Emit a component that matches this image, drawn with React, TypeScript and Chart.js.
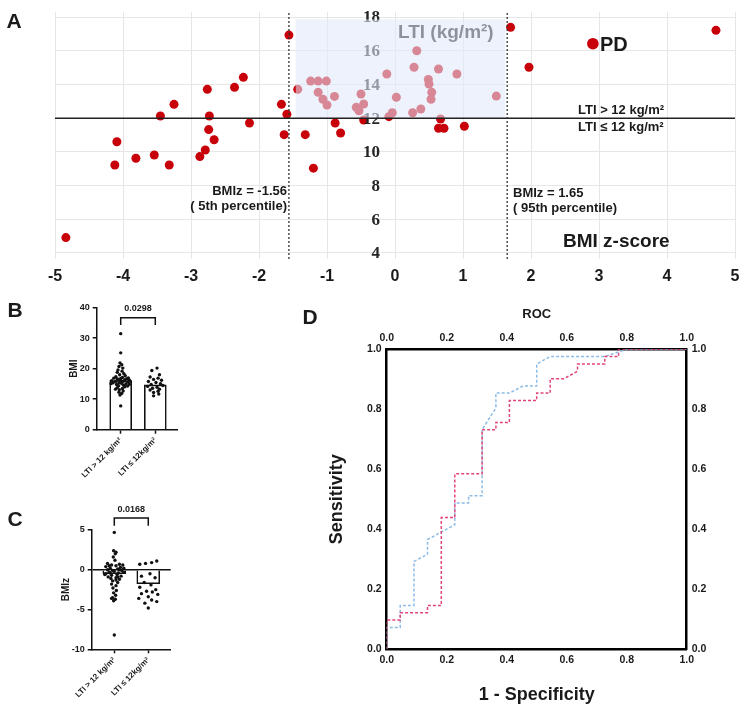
import React, { useEffect, useRef } from "react";
import Chart from "chart.js/auto";

const SANS = "'Liberation Sans', Arial, sans-serif";
const SERIF = "'Liberation Serif', 'Times New Roman', serif";
const RED = "#c8000a";
const INK = "#1a1a1a";

// ---- Panel A: BMI z-score vs LTI ----
const bmizA = [
  -4.84, -4.12, -4.09, -3.81, -3.54, -3.45, -3.32, -3.25, -2.87, -2.79,
  -2.76, -2.73, -2.74, -2.66, -2.36, -2.23, -2.14, -1.67, -1.63, -1.59,
  -1.56, -1.43, -1.32, -1.24, -1.13, -1.01, -1.13, -1.06, -1.0, -0.89,
  -1.2, -0.88, -0.8, -0.57, -0.53, -0.5, -0.46, -0.46, -0.12, -0.09,
  -0.04, 0.02, 0.26, 0.28, 0.32, 0.38, 0.49, 0.5, 0.54, 0.53,
  0.64, 0.67, 0.64, 0.72, 0.91, 1.02, 1.49, 1.7, 1.97, 4.72,
];
const ltiA = [
  4.91, 9.22, 10.6, 9.62, 9.81, 12.13, 9.22, 12.82, 9.72, 10.11,
  13.71, 12.13, 11.32, 10.72, 13.83, 14.42, 11.71, 12.82, 11.02, 12.23,
  16.93, 13.71, 11.02, 14.2, 14.2, 14.2, 13.53, 13.12, 12.78, 13.29,
  9.03, 11.71, 11.12, 12.64, 12.44, 13.43, 12.84, 11.89, 14.62, 12.09,
  12.32, 13.24, 12.32, 15.02, 16.0, 12.54, 14.3, 14.03, 13.53, 13.12,
  14.92, 11.95, 11.4, 11.4, 14.62, 11.52, 13.31, 17.39, 15.02, 17.21,
];
const pdBmiz = [2.91];
const pdLti = [16.42];
const xTicksA = [-5, -4, -3, -2, -1, 0, 1, 2, 3, 4, 5];
const yTicksA = [4, 6, 8, 10, 12, 14, 16, 18];
const yMinA = 3.64;
const yMaxA = 18.3;
const cutoffLow = -1.56;
const cutoffHigh = 1.65;
const ltiCut = 12;
const boxBmiz = [-1.46, 1.62];
const boxLti = [12, 17.86];

// ---- Panels B and C: groups ----
const groupX = [1, 2];
const groupLabels = ["LTI > 12 kg/m²", "LTI ≤ 12kg/m²"];

const bmiHigh = [
  31.5, 25.2, 21.9, 21.3, 20.7, 20.2, 19.6, 19.2, 18.8, 18.4,
  18.0, 17.7, 17.4, 17.1, 16.9, 16.7, 16.5, 16.3, 16.1, 16.0,
  15.8, 15.6, 15.4, 15.2, 15.0, 14.8, 14.6, 14.4, 14.1, 13.8,
  13.5, 13.1, 12.7, 12.3, 11.9, 11.4, 7.8, 16.2, 15.9, 16.6,
  15.5, 17.0, 16.4, 15.1, 14.9, 15.7, 16.8, 14.3, 13.3,
];
const bmiHighJit = [
  0, 0, -0.02, 0.03, -0.05, 0.06, -0.08, 0.04, -0.1, 0.09,
  -0.03, 0.13, -0.14, 0.05, -0.2, 0.18, -0.08, 0.25, -0.26, 0.1,
  -0.15, 0.2, -0.22, 0.02, 0.15, -0.12, 0.08, -0.06, 0.12, -0.1,
  0.05, -0.04, 0.07, -0.05, 0.03, -0.02, 0, 0, 0.27, -0.1,
  -0.05, 0.22, 0.12, -0.28, 0.25, 0.05, 0, 0.2, -0.15,
];
const bmiLow = [20.2, 19.4, 18.0, 17.3, 16.9, 16.5, 16.2, 15.8, 15.5, 15.1, 14.8, 14.5, 14.2, 13.9, 13.6, 13.3, 13.0, 12.6, 12.2, 11.7, 11.1];
const bmiLowJit = [0.05, -0.1, 0.12, -0.15, 0.08, -0.05, 0.18, -0.2, 0.02, 0.15, -0.12, 0.22, -0.22, 0.05, -0.08, 0.12, -0.15, 0.08, -0.05, 0.1, -0.05];
const bmiMeans = [16.1, 14.7];
const bmiTicks = [0, 10, 20, 30, 40];

const bmizHigh = [
  4.7, 2.4, 2.0, 1.6, 1.2, 0.8, 0.7, 0.6, 0.6, 0.5,
  0.4, 0.3, 0.2, 0.1, 0.0, -0.1, -0.2, -0.3, -0.4, -0.5,
  -0.6, -0.7, -0.8, -0.9, -1.0, -1.1, -1.2, -1.4, -1.6, -1.8,
  -2.0, -2.3, -2.6, -2.9, -3.2, -3.5, -3.7, -3.9, -8.2, 0.2,
  -0.3, -0.6, 0.5, -0.1, -0.9, 0.0, -0.4, 2.2, -3.6, -1.3,
];
const bmizHighJit = [
  0, -0.02, 0.03, -0.03, 0.02, -0.2, 0.15, -0.08, 0.25, 0.05,
  -0.25, 0.18, -0.12, 0.1, -0.2, 0.22, 0, -0.15, 0.12, -0.25,
  0.08, -0.08, 0.2, -0.18, 0.05, -0.1, 0.15, -0.05, 0.1, -0.08,
  0.05, -0.04, 0.06, -0.02, 0.04, -0.05, 0.03, -0.02, 0, 0.28,
  0.28, -0.28, -0.15, -0.05, 0.1, 0.15, -0.12, 0.05, -0.08, 0.05,
];
const bmizLow = [1.1, 0.9, 0.8, 0.7, -0.5, -0.8, -1.0, -1.6, -1.9, -2.2, -2.5, -2.7, -2.8, -3.0, -3.1, -3.4, -3.6, -3.8, -4.0, -4.2, -4.8];
const bmizLowJit = [0.25, 0.1, -0.08, -0.25, 0.05, -0.2, 0.2, -0.12, 0.08, -0.25, 0.22, -0.05, 0.12, -0.2, 0.28, 0.0, -0.28, 0.1, 0.25, -0.1, 0];
const bmizMeans = [-0.5, -1.76];
const bmizTicks = [-10, -5, 0, 5];

// ---- Panel D: ROC curves ----
const rocTicks = [0, 0.2, 0.4, 0.6, 0.8, 1.0];
const redFpr = [0, 0, 0.045, 0.045, 0.136, 0.136, 0.182, 0.182, 0.227, 0.227, 0.318, 0.318, 0.364, 0.364, 0.409, 0.409, 0.5, 0.5, 0.545, 0.545, 0.591, 0.636, 0.636, 0.727, 0.727, 0.773, 0.773, 1];
const redTpr = [0, 0.098, 0.098, 0.122, 0.122, 0.146, 0.146, 0.439, 0.439, 0.585, 0.585, 0.732, 0.732, 0.756, 0.756, 0.829, 0.829, 0.854, 0.854, 0.902, 0.902, 0.927, 0.951, 0.951, 0.976, 0.976, 1, 1];
const blueFpr = [0, 0, 0.045, 0.045, 0.091, 0.091, 0.136, 0.136, 0.227, 0.227, 0.273, 0.273, 0.318, 0.318, 0.364, 0.364, 0.409, 0.455, 0.5, 0.5, 0.545, 0.727, 0.8, 1];
const blueTpr = [0, 0.073, 0.073, 0.146, 0.146, 0.293, 0.317, 0.366, 0.415, 0.488, 0.488, 0.512, 0.512, 0.732, 0.805, 0.854, 0.854, 0.878, 0.878, 0.951, 0.976, 0.976, 1, 1];

const zip = (xs: number[], ys: number[]) => xs.map((x, i) => ({ x, y: ys[i] }));
const jitter = (base: number, vals: number[], jit: number[]) => vals.map((v, i) => ({ x: base + jit[i], y: v }));
const fixTicks = (arr: number[]) => (s: any) => { s.ticks = arr.map((v) => ({ value: v })); };

Chart.defaults.font.family = SANS;

const text = (ctx: any, s: string, x: number, y: number, font: string, align = "left", color = INK) => {
  ctx.font = font;
  ctx.textAlign = align;
  ctx.textBaseline = "middle";
  ctx.fillStyle = color;
  ctx.fillText(s, x, y);
};

const panelAPlugin = {
  id: "panelA",
  afterDatasetDraw(chart: any, args: any) {
    if (args.index !== 0) return;
    const { ctx, scales: { x, y } } = chart;
    ctx.save();
    const lx = x.getPixelForValue(0) - 15;
    yTicksA.forEach((v) => text(ctx, String(v), lx, y.getPixelForValue(v) + 1, `bold 17px ${SERIF}`, "right", "#262626"));
    text(ctx, "LTI (kg/m²)", 398, 33, `bold 19px ${SANS}`);
    // translucent box laid over dots and labels
    const bx0 = x.getPixelForValue(boxBmiz[0]);
    const bx1 = x.getPixelForValue(boxBmiz[1]);
    const by0 = y.getPixelForValue(boxLti[1]);
    const by1 = y.getPixelForValue(boxLti[0]);
    ctx.fillStyle = "rgba(226,233,250,0.58)";
    ctx.fillRect(bx0, by0, bx1 - bx0, by1 - by0);
    ctx.restore();
  },
  afterDraw(chart: any) {
    const { ctx } = chart;
    ctx.save();
    text(ctx, "A", 14, 22, `bold 21px ${SANS}`, "center");
    text(ctx, "PD", 600, 45, `bold 20px ${SANS}`);
    text(ctx, "LTI > 12 kg/m²", 578, 110, `bold 13px ${SANS}`);
    text(ctx, "LTI ≤ 12 kg/m²", 578, 127, `bold 13px ${SANS}`);
    text(ctx, "BMIz = -1.56", 287, 191, `bold 13px ${SANS}`, "right");
    text(ctx, "( 5th percentile)", 287, 206, `bold 13px ${SANS}`, "right");
    text(ctx, "BMIz = 1.65", 513, 193, `bold 13px ${SANS}`);
    text(ctx, "( 95th percentile)", 513, 208, `bold 13px ${SANS}`);
    text(ctx, "BMI z-score", 563, 242, `bold 19px ${SANS}`);
    ctx.restore();
  },
};

const makeA = () => ({
  type: "scatter",
  data: {
    datasets: [
      { data: zip(bmizA, ltiA), backgroundColor: RED, borderWidth: 0, pointRadius: 4.5, order: 3 },
      { data: zip(pdBmiz, pdLti), backgroundColor: RED, borderWidth: 0, pointRadius: 5.8, order: 2 },
      { type: "line", data: [{ x: xTicksA[0], y: ltiCut }, { x: xTicksA[xTicksA.length - 1], y: ltiCut }], borderColor: "#222", borderWidth: 1.5, pointRadius: 0, order: 1 },
      { type: "line", data: [{ x: cutoffLow, y: yMinA }, { x: cutoffLow, y: yMaxA }], borderColor: "#333", borderWidth: 1.3, borderDash: [2, 2], pointRadius: 0, order: 1 },
      { type: "line", data: [{ x: cutoffHigh, y: yMinA }, { x: cutoffHigh, y: yMaxA }], borderColor: "#333", borderWidth: 1.3, borderDash: [2, 2], pointRadius: 0, order: 1 },
    ],
  },
  options: {
    animation: false,
    responsive: false,
    layout: { padding: { left: 55, right: 15, top: 12, bottom: 0 } },
    plugins: { legend: { display: false }, tooltip: { enabled: false } },
    scales: {
      x: {
        type: "linear", min: -5, max: 5,
        afterBuildTicks: fixTicks(xTicksA),
        afterFit: (s: any) => { s.height = 31; },
        grid: { color: "#e6e6e6", drawTicks: false },
        border: { display: false },
        ticks: { padding: 8, color: INK, font: { size: 16, weight: "bold" } },
      },
      y: {
        type: "linear", min: yMinA, max: yMaxA,
        afterBuildTicks: fixTicks(yTicksA),
        afterFit: (s: any) => { s.width = 0; },
        grid: { color: "#e6e6e6", drawTicks: false },
        border: { display: false },
        ticks: { display: false },
      },
    },
  },
  plugins: [panelAPlugin],
});

const sigPlugin = (letter: string, letterY: number, pText: string, barY: number, legY: number, textY: number) => ({
  id: "sig" + letter,
  afterDraw(chart: any) {
    const { ctx, scales: { x, y } } = chart;
    const x1 = x.getPixelForValue(groupX[0]);
    const x2 = x.getPixelForValue(groupX[1]);
    ctx.save();
    ctx.strokeStyle = "#111";
    ctx.lineWidth = 1.5;
    ctx.beginPath();
    ctx.moveTo(x1, y.getPixelForValue(legY));
    ctx.lineTo(x1, y.getPixelForValue(barY));
    ctx.lineTo(x2, y.getPixelForValue(barY));
    ctx.lineTo(x2, y.getPixelForValue(legY));
    ctx.stroke();
    text(ctx, pText, (x1 + x2) / 2, y.getPixelForValue(textY), `bold 9px ${SANS}`, "center");
    text(ctx, letter, 15, letterY, `bold 21px ${SANS}`, "center");
    ctx.restore();
  },
});

const groupChart = (opts: any) => ({
  type: "scatter",
  data: {
    datasets: [
      { type: "bar", data: zip(groupX, opts.means), backgroundColor: "#fff", borderColor: "#111", borderWidth: 1.6, barThickness: opts.barW, order: 2 },
      { data: [...jitter(groupX[0], opts.high, opts.highJit), ...jitter(groupX[1], opts.low, opts.lowJit)], backgroundColor: "#111", borderWidth: 0, pointRadius: 1.7, order: 1 },
    ],
  },
  options: {
    animation: false,
    responsive: false,
    layout: { padding: opts.padding },
    plugins: { legend: { display: false }, tooltip: { enabled: false } },
    scales: {
      x: {
        type: "linear", min: opts.xMin, max: opts.xMax, offset: false,
        afterBuildTicks: fixTicks(groupX),
        afterFit: (s: any) => { s.height = opts.xH; },
        grid: { offset: false, drawOnChartArea: false, tickLength: 4, tickColor: "#111", tickWidth: 1.5 },
        border: { color: "#111", width: 1.5 },
        ticks: {
          autoSkip: false, minRotation: 45, maxRotation: 45, padding: 2, color: INK,
          font: { size: 8, weight: "bold" },
          callback: (v: number) => groupLabels[groupX.indexOf(v)],
        },
      },
      y: {
        type: "linear", min: opts.ticks[0], max: opts.ticks[opts.ticks.length - 1],
        afterBuildTicks: fixTicks(opts.ticks),
        afterFit: (s: any) => { s.width = opts.yW; },
        grid: {
          offset: false,
          drawOnChartArea: opts.zeroLine,
          color: (c: any) => (c.tick && c.tick.value === 0 ? "#111" : "rgba(0,0,0,0)"),
          lineWidth: 1.5, tickLength: 4, tickColor: "#111", tickWidth: 1.5,
        },
        border: { color: "#111", width: 1.5 },
        ticks: { padding: 3, color: INK, font: { size: 9, weight: "bold" } },
        title: { display: true, text: opts.title, color: INK, font: { size: 10, weight: "bold" } },
      },
    },
  },
  plugins: [opts.plugin],
});

const makeB = () => groupChart({
  means: bmiMeans, high: bmiHigh, highJit: bmiHighJit, low: bmiLow, lowJit: bmiLowJit,
  ticks: bmiTicks, title: "BMI", barW: 22, zeroLine: false,
  xMin: 0.306, xMax: 2.636, xH: 60.3, yW: 32.7,
  padding: { left: 64, top: 12.7, right: 22.7, bottom: 0 },
  plugin: sigPlugin("B", 16, "0.0298", 36.7, 34.3, 39.6),
});

const makeC = () => groupChart({
  means: bmizMeans, high: bmizHigh, highJit: bmizHighJit, low: bmizLow, lowJit: bmizLowJit,
  ticks: bmizTicks, title: "BMIz", barW: 23, zeroLine: true,
  xMin: 0.335, xMax: 2.66, xH: 62.7, yW: 35,
  padding: { left: 56.7, top: 30, right: 29.3, bottom: 0 },
  plugin: sigPlugin("C", 20, "0.0168", 6.5, 5.53, 7.63),
});

const rocAxis = (position: string, size: number, title?: string, titleSize = 18) => ({
  type: "linear", position, min: 0, max: 1,
  afterBuildTicks: fixTicks(rocTicks),
  afterFit: (s: any) => {
    if (position === "top" || position === "bottom") s.height = size;
    else s.width = size;
  },
  grid: { display: false, drawTicks: false, tickLength: 0 },
  border: { color: "#000", width: 2.5 },
  ticks: { padding: 5, color: INK, font: { size: 10.5, weight: "bold" }, callback: (v: number) => Number(v).toFixed(1) },
  title: { display: !!title, text: title || "", color: INK, font: { size: titleSize, weight: "bold" } },
});

const panelDPlugin = {
  id: "panelD",
  afterDraw(chart: any) {
    const { ctx } = chart;
    ctx.save();
    text(ctx, "D", 20, 28, `bold 21px ${SANS}`, "center");
    ctx.restore();
  },
};

const makeD = () => ({
  type: "scatter",
  data: {
    datasets: [
      { type: "line", data: zip(redFpr, redTpr), borderColor: "#e0457b", borderWidth: 1.5, borderDash: [3, 2], pointRadius: 0, fill: false },
      { type: "line", data: zip(blueFpr, blueTpr), borderColor: "#8dbbe6", borderWidth: 1.5, borderDash: [3, 2], pointRadius: 0, fill: false },
    ],
  },
  options: {
    animation: false,
    responsive: false,
    layout: { padding: { left: 31.9, right: 0, top: 12.2, bottom: 2.2 } },
    plugins: { legend: { display: false }, tooltip: { enabled: false } },
    scales: {
      x: rocAxis("bottom", 60.5, "1 - Specificity"),
      x2: rocAxis("top", 47.1, "ROC", 13),
      y: rocAxis("left", 64.8, "Sensitivity"),
      y2: rocAxis("right", 63.3),
    },
  },
  plugins: [panelDPlugin],
});

type PanelProps = { make: () => any; left: number; top: number; width: number; height: number };

const Panel = ({ make, left, top, width, height }: PanelProps) => {
  const ref = useRef<HTMLCanvasElement>(null);

  useEffect(() => {
    if (!ref.current) return;
    const chart = new Chart(ref.current, make());
    return () => {
      chart.destroy();
    };
  }, []);

  return (
    <canvas
      ref={ref}
      width={width}
      height={height}
      style={{ position: "absolute", left, top, width, height }}
    />
  );
};

const App = () => (
  <div style={{ position: "absolute", left: 0, top: 0, width: 750, height: 712, background: "#fff", overflow: "hidden" }}>
    <Panel make={makeA} left={0} top={0} width={750} height={290} />
    <Panel make={makeB} left={0} top={295} width={200} height={195} />
    <Panel make={makeC} left={0} top={500} width={200} height={212} />
    <Panel make={makeD} left={290} top={290} width={460} height={422} />
  </div>
);

export default App;
